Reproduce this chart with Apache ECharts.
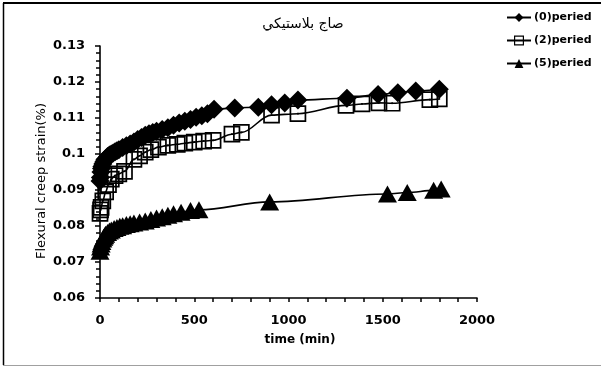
<!DOCTYPE html>
<html>
<head>
<meta charset="utf-8">
<script src="https://cdn.jsdelivr.net/npm/echarts@6/dist/echarts.min.js"></script>
<style>
  html, body { margin: 0; padding: 0; background: #fff; }
  #chart { width: 601px; height: 367px; }
</style>
</head>
<body>
<div id="chart"></div>
<script>
// Flexural creep strain (%) against time (min) for three ageing periods
const chartTitle = 'صاج بلاستيكي';
const xAxisTitle = 'time (min)';
const yAxisTitle = 'Flexural creep strain(%)';
const seriesNames = ['(0)peried', '(2)peried', '(5)peried'];
const xTickValues = [0, 500, 1000, 1500, 2000];
const yTickValues = [0.06, 0.07, 0.08, 0.09, 0.1, 0.11, 0.12, 0.13];

// (0) period — filled diamonds
const time0 = [0, 2, 5, 8, 10, 15, 20, 25, 30, 40, 50, 60, 70, 80, 90, 100, 120, 140, 160, 180,
  200, 220, 240, 260, 280, 300, 330, 360, 390, 420, 450, 480, 510, 540, 570, 605, 715, 840,
  910, 980, 1050, 1310, 1475, 1580, 1675, 1800];
const strain0 = [0.0925, 0.0935, 0.0950, 0.0960, 0.0965, 0.0972, 0.0978, 0.0983, 0.0987, 0.0993,
  0.0997, 0.1000, 0.1003, 0.1006, 0.1009, 0.1012, 0.1018, 0.1023, 0.1028, 0.1033,
  0.1040, 0.1046, 0.1052, 0.1056, 0.1060, 0.1063, 0.1068, 0.1073, 0.1080, 0.1086,
  0.1091, 0.1096, 0.1102, 0.1106, 0.1112, 0.1124, 0.1128, 0.1130,
  0.1137, 0.1142, 0.1150, 0.1155, 0.1165, 0.1170, 0.1175, 0.1180];

// (2) period — open squares
const time2 = [0, 3, 6, 15, 30, 45, 60, 80, 100, 130, 180, 210, 240, 270, 310, 360, 410, 450,
  500, 550, 600, 700, 750, 910, 1050, 1305, 1390, 1480, 1550, 1750, 1800];
const strain2 = [0.0835, 0.0845, 0.0852, 0.0870, 0.0895, 0.0915, 0.0930, 0.0940, 0.0945, 0.0952,
  0.0985, 0.0995, 0.1005, 0.1012, 0.1019, 0.1024, 0.1027, 0.1030,
  0.1033, 0.1036, 0.1038, 0.1055, 0.1060, 0.1108, 0.1112, 0.1135, 0.1139, 0.1142, 0.1141, 0.1151, 0.1153];

// (5) period — filled triangles
const time5 = [0, 3, 6, 10, 15, 20, 25, 30, 40, 50, 60, 75, 90, 105, 120, 140, 160, 180, 210,
  240, 270, 300, 330, 360, 390, 430, 480, 525, 900, 1525, 1630, 1770, 1810];
const strain5 = [0.0730, 0.0742, 0.0750, 0.0757, 0.0764, 0.0769, 0.0773, 0.0777, 0.0782, 0.0786,
  0.0789, 0.0793, 0.0796, 0.0799, 0.0801, 0.0804, 0.0806, 0.0808, 0.0811,
  0.0814, 0.0818, 0.0822, 0.0826, 0.0830, 0.0834, 0.0838, 0.0843, 0.0845, 0.0867, 0.0889, 0.0893, 0.0899, 0.0903];

const pairs = (xs, ys) => xs.map((x, i) => [x, ys[i]]);

const FONT = 'DejaVu Sans';
const BLACK = '#000';

// marker styles per series (line + separate scatter layer for the full-size markers)
const markers = [
  { symbol: 'diamond', size: 19, item: { color: BLACK, borderWidth: 0, opacity: 1 } },
  { symbol: 'rect', size: 15, item: { color: 'rgba(255,255,255,0)', borderColor: BLACK, borderWidth: 1.7, opacity: 1 } },
  { symbol: 'triangle', size: [19, 17], item: { color: BLACK, borderWidth: 0, opacity: 1 } }
];
const datasets = [pairs(time0, strain0), pairs(time2, strain2), pairs(time5, strain5)];
const drawOrder = [1, 0, 2];

const series = [];
drawOrder.forEach((k, n) => {
  series.push({
    type: 'line',
    name: seriesNames[k],
    data: datasets[k],
    smooth: 0.35,
    smoothMonotone: 'x',
    symbol: markers[k].symbol,
    symbolSize: 0.01,
    itemStyle: markers[k].item,
    lineStyle: { color: BLACK, width: 1.6 },
    emphasis: { disabled: true },
    z: 2 + n * 2
  });
  series.push({
    type: 'scatter',
    name: seriesNames[k],
    data: datasets[k],
    symbol: markers[k].symbol,
    symbolSize: markers[k].size,
    itemStyle: markers[k].item,
    emphasis: { disabled: true },
    z: 3 + n * 2
  });
});

// legend keys: slightly smaller square outline and triangle than the default
const legendItemStyles = [{}, { borderWidth: 1.2 }, {}];

const chart = echarts.init(document.getElementById('chart'), null, { renderer: 'canvas' });

chart.setOption({
  backgroundColor: '#fff',
  animation: false,
  title: {
    text: chartTitle,
    left: 298,
    textAlign: 'center',
    top: 12,
    textStyle: { fontFamily: FONT, fontSize: 14, fontWeight: 'normal', color: BLACK }
  },
  legend: {
    orient: 'vertical',
    left: 506,
    top: 12,
    padding: 0,
    itemWidth: 24,
    itemHeight: 11,
    itemGap: 12,
    textStyle: { fontFamily: FONT, fontSize: 11, fontWeight: 'bold', color: BLACK, padding: [0, 0, 0, -2] },
    data: seriesNames.map((name, k) => ({ name, itemStyle: legendItemStyles[k] }))
  },
  grid: { left: 100, right: 124, top: 46, bottom: 69, containLabel: false },
  xAxis: {
    type: 'value',
    min: xTickValues[0],
    max: xTickValues[xTickValues.length - 1],
    interval: 500,
    axisLine: { lineStyle: { color: BLACK, width: 1.6 } },
    axisTick: { show: true, inside: false, length: 4, lineStyle: { color: BLACK, width: 1.5 } },
    minorTick: { show: true, splitNumber: 5, length: 4, lineStyle: { color: BLACK, width: 1.5 } },
    splitLine: { show: false },
    axisLabel: {
      margin: 16, fontFamily: FONT, fontSize: 13, fontWeight: 'bold', color: BLACK,
      formatter: v => String(v)
    }
  },
  yAxis: {
    type: 'value',
    min: yTickValues[0],
    max: yTickValues[yTickValues.length - 1],
    interval: 0.01,
    axisLine: { show: true, lineStyle: { color: BLACK, width: 1.6 } },
    axisTick: { show: true, inside: false, length: 5, lineStyle: { color: BLACK, width: 1.5 } },
    minorTick: { show: true, splitNumber: 5, length: 4, lineStyle: { color: BLACK, width: 1.5 } },
    splitLine: { show: false },
    axisLabel: {
      margin: 15,
      fontFamily: FONT, fontSize: 13, fontWeight: 'bold', color: BLACK,
      formatter: v => String(Math.round(v * 100) / 100)
    }
  },
  graphic: [
    { type: 'line', shape: { x1: 3, y1: 3, x2: 601, y2: 3 }, style: { stroke: BLACK, lineWidth: 2 } },
    { type: 'line', shape: { x1: 3.5, y1: 3, x2: 3.5, y2: 365 }, style: { stroke: BLACK, lineWidth: 1.5 } },
    { type: 'line', shape: { x1: 3, y1: 365.5, x2: 601, y2: 365.5 }, style: { stroke: '#a0a0a0', lineWidth: 1 } },
    {
      type: 'text', x: 300, y: 340,
      style: { text: xAxisTitle, fill: BLACK, font: 'bold 12px "DejaVu Sans"', textAlign: 'center', textVerticalAlign: 'middle' }
    },
    {
      type: 'text', x: 42, y: 181, rotation: Math.PI / 2,
      style: { text: yAxisTitle, fill: BLACK, font: '13px "DejaVu Sans"', textAlign: 'center', textVerticalAlign: 'middle' }
    }
  ],
  series
});
</script>
</body>
</html>
